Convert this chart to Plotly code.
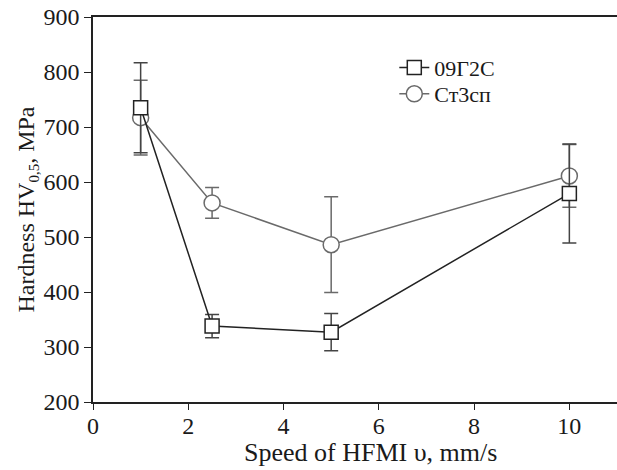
import plotly.graph_objects as go

speed = [1, 2.5, 5, 10]
g09_vals = [735, 338, 327, 579]
g09_err = [82, 21, 34, 90]
st3_vals = [717, 562, 486, 611]
st3_err = [68, 28, 87, 57]

font_family = "Liberation Serif"

fig = go.Figure()
fig.add_trace(go.Scatter(
    x=speed, y=st3_vals, name="Ст3сп", mode="lines+markers", legend="legend2",
    line=dict(color="#6a6a6a", width=1.5),
    marker=dict(symbol="circle", size=16, color="white", line=dict(color="#6a6a6a", width=1.5)),
    error_y=dict(type="data", array=st3_err, color="#6a6a6a", thickness=1.5, width=7),
))
fig.add_trace(go.Scatter(
    x=speed, y=g09_vals, name="09Г2С", mode="lines+markers", legend="legend",
    line=dict(color="#222222", width=1.5),
    marker=dict(symbol="square", size=14, color="white", line=dict(color="#222222", width=1.5)),
    error_y=dict(type="data", array=g09_err, color="#444444", thickness=1.5, width=7),
))

leg_common = dict(x=0.575, xanchor="left", yanchor="middle", bgcolor="rgba(0,0,0,0)",
                  font=dict(size=22), itemwidth=30)

fig.update_layout(
    width=617, height=470,
    margin=dict(l=93, r=0, t=17, b=68),
    paper_bgcolor="white", plot_bgcolor="white",
    font=dict(family=font_family, size=24, color="#1a1a1a"),
    showlegend=True,
    legend=dict(y=0.868, **leg_common),
    legend2=dict(y=0.800, **leg_common),
    xaxis=dict(range=[0, 11], tickvals=[0, 2, 4, 6, 8, 10], showline=True, linecolor="#222222",
               linewidth=1.5, mirror=True, ticks="outside", ticklen=6, tickcolor="#222222",
               showgrid=False, zeroline=False, automargin=False, ticklabelstandoff=-5),
    yaxis=dict(range=[200, 900], tickvals=[200, 300, 400, 500, 600, 700, 800, 900],
               showline=True, linecolor="#222222", linewidth=1.5, mirror=False,
               ticks="outside", ticklen=7, tickcolor="#222222",
               showgrid=False, zeroline=False, automargin=False,
               title=dict(text="Hardness HV<sub><span style='font-size:15px'>0,5</span></sub>, MPa",
                          standoff=2, font=dict(size=24))),
    annotations=[dict(text="Speed of HFMI υ, mm/s", xref="paper", yref="paper",
                      x=0.53, y=-0.13, xanchor="center", yanchor="middle",
                      showarrow=False, font=dict(size=26))],
)

fig.write_html("out.html", config={"displayModeBar": False},
               post_script="document.body.style.margin='0';document.body.style.overflow='hidden';")
